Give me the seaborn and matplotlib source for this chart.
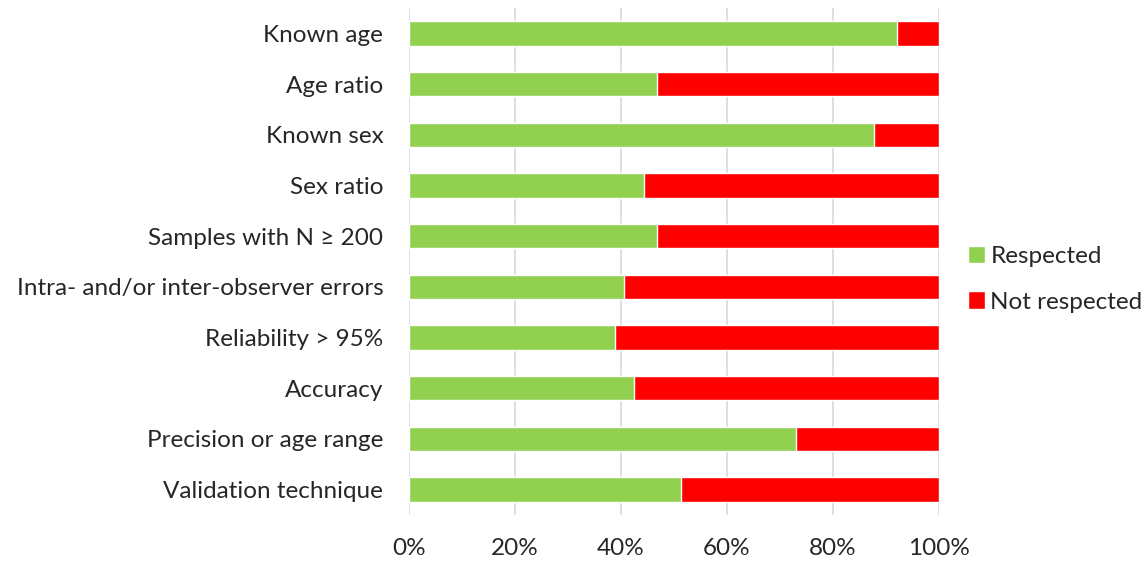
import matplotlib
matplotlib.use("Agg")
import matplotlib.pyplot as plt
import seaborn as sns
import pandas as pd

criteria = [
    "Known age",
    "Age ratio",
    "Known sex",
    "Sex ratio",
    "Samples with N \u2265 200",
    "Intra- and/or inter-observer errors",
    "Reliability > 95%",
    "Accuracy",
    "Precision or age range",
    "Validation technique",
]
respected = [92.0, 46.7, 87.8, 44.4, 46.7, 40.5, 38.8, 42.4, 73.0, 51.4]
not_respected = [100 - v for v in respected]
x_ticks = [0, 20, 40, 60, 80, 100]

GREEN = "#92D050"
RED = "#FF0000"
FS = 17.5

sns.set_theme(style="white")
plt.rcParams["font.family"] = ["Lato", "DejaVu Sans"]

df = pd.DataFrame({
    "criterion": criteria,
    "respected": respected,
    "total": [r + n for r, n in zip(respected, not_respected)],
})

fig = plt.figure(figsize=(11.48, 5.63), dpi=100)
ax = fig.add_axes([409 / 1148, 1 - 515 / 563, 530 / 1148, 507 / 563])

sns.barplot(data=df, x="total", y="criterion", color=RED, width=0.48,
            saturation=1, ax=ax, label="Not respected", zorder=2)
sns.barplot(data=df, x="respected", y="criterion", color=GREEN, width=0.48,
            saturation=1, ax=ax, label="Respected", zorder=3)

ax.set_xlim(0, 100)
ax.set_ylim(9.5, -0.5)
ax.set_xticks(x_ticks)
ax.set_xticklabels([f"{t}%" for t in x_ticks], fontsize=FS)
ax.tick_params(axis="y", labelsize=FS, length=0, pad=18.5)
ax.tick_params(axis="x", length=0, pad=16.5)
ax.set_xlabel("")
ax.set_ylabel("")
for s in ax.spines.values():
    s.set_visible(False)
ax.grid(axis="x", color="#D9D9D9", linewidth=1.2, zorder=0)
ax.set_axisbelow(True)

handles, labels = ax.get_legend_handles_labels()
order = [labels.index("Respected"), labels.index("Not respected")]
ax.legend([handles[i] for i in order], [labels[i] for i in order],
          loc="center left", bbox_to_anchor=(1.054, 0.465), frameon=False,
          fontsize=FS, handlelength=0.72, handleheight=0.72,
          handletextpad=0.22, labelspacing=1.0, borderpad=0,
          borderaxespad=0)

fig.savefig("out.png", dpi=100)
